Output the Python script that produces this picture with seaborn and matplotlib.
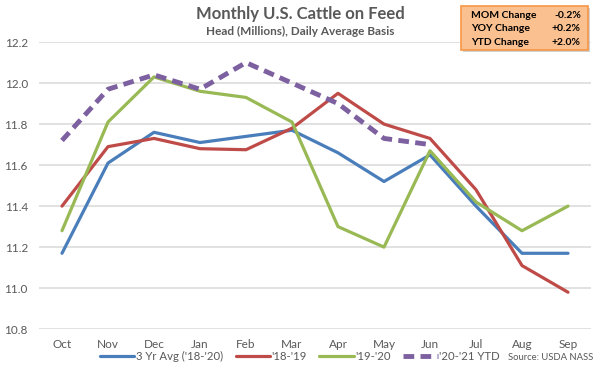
import numpy as np
import pandas as pd
import matplotlib
matplotlib.use("Agg")
import matplotlib.pyplot as plt
import seaborn as sns
from matplotlib.patches import FancyBboxPatch

months = ["Oct", "Nov", "Dec", "Jan", "Feb", "Mar", "Apr", "May", "Jun", "Jul", "Aug", "Sep"]
avg_3yr = [11.17, 11.61, 11.76, 11.71, 11.74, 11.77, 11.66, 11.52, 11.65, 11.40, 11.17, 11.17]
y18_19 = [11.40, 11.69, 11.73, 11.68, 11.675, 11.78, 11.95, 11.80, 11.73, 11.48, 11.11, 10.98]
y19_20 = [11.28, 11.81, 12.03, 11.96, 11.93, 11.81, 11.30, 11.20, 11.67, 11.42, 11.28, 11.40]
y20_21 = [11.72, 11.97, 12.04, 11.97, 12.10, 12.00, 11.90, 11.73, 11.70]
series_names = ["3 Yr Avg ('18-'20)", "'18-'19", "'19-'20", "'20-'21 YTD"]
yticks = [10.8, 11.0, 11.2, 11.4, 11.6, 11.8, 12.0, 12.2]
box_labels = ["MOM Change", "YOY Change", "YTD Change"]
box_values = ["-0.2%", "+0.2%", "+2.0%"]

rows = []
for name, vals in zip(series_names, [avg_3yr, y18_19, y19_20, y20_21]):
    for i, v in enumerate(vals):
        rows.append({"series": name, "x": i, "value": v})
df = pd.DataFrame(rows)

sns.set_theme(style="white")
plt.rcParams["font.family"] = ["Lato", "DejaVu Sans"]
txt = "#595959"

fig = plt.figure(figsize=(6, 3.69), dpi=100)
ax = fig.add_axes([0.065, 0.108, 0.92, 0.778])

palette = {series_names[0]: "#4A7EBB", series_names[1]: "#BE4B48",
           series_names[2]: "#98B954", series_names[3]: "#7D60A0"}
for name in series_names:
    sub = df[df.series == name]
    dashed = name == series_names[3]
    sns.lineplot(data=sub, x="x", y="value", ax=ax, color=palette[name],
                 lw=3.5 if dashed else 2.3, legend=False,
                 dashes=False, label=name,
                 **({"linestyle": (0, (2.2, 1.3))} if dashed else {}))

ax.set_xlim(-0.5, 11.5)
ax.set_ylim(10.8, 12.2)
ax.set_yticks(yticks)
ax.set_yticklabels([f"{t:.1f}" for t in yticks])
ax.set_xticks(range(len(months)))
ax.set_xticklabels(months)
ax.yaxis.grid(True, color="#D9D9D9", lw=1.1)
ax.set_axisbelow(True)
for s in ax.spines.values():
    s.set_visible(False)
ax.tick_params(axis="both", length=0, labelsize=8.5, colors=txt)
ax.tick_params(axis="y", pad=8)
ax.tick_params(axis="x", pad=7)
ax.set_xlabel("")
ax.set_ylabel("")

handles, labels = ax.get_legend_handles_labels()
leg = fig.legend(handles, labels, loc="center", bbox_to_anchor=(0.5, 0.035),
                 ncol=4, frameon=False, fontsize=8.2, handlelength=3.0,
                 handletextpad=0.15, columnspacing=1.1, labelcolor=txt,
                 borderpad=0, borderaxespad=0)

fig.text(0.5, 0.962, "Monthly U.S. Cattle on Feed", ha="center", va="center",
         fontsize=12, fontweight="bold", color=txt)
fig.text(0.5, 0.915, "Head (Millions), Daily Average Basis", ha="center", va="center",
         fontsize=8.5, fontweight="bold", color=txt)
fig.text(0.988, 0.03, "Source: USDA NASS", ha="right", va="center", fontsize=6.8, color=txt)

# info box with shadow
shadow = FancyBboxPatch((0.772, 0.858), 0.212, 0.12, boxstyle="square,pad=0",
                        transform=fig.transFigure, facecolor="#BFBFBF", edgecolor="none", alpha=0.7)
fig.patches.append(shadow)
box = FancyBboxPatch((0.768, 0.865), 0.212, 0.12, boxstyle="square,pad=0",
                     transform=fig.transFigure, facecolor="#FAC090", edgecolor="#F79646", lw=1.2)
fig.patches.append(box)
for i, (lab, val) in enumerate(zip(box_labels, box_values)):
    y = 0.958 - i * 0.036
    fig.text(0.785, y, lab, ha="left", va="center", fontsize=7.5, fontweight="bold", color="#000000")
    fig.text(0.968, y, val, ha="right", va="center", fontsize=7.5, fontweight="bold", color="#000000")

fig.savefig("out.png", dpi=100)
